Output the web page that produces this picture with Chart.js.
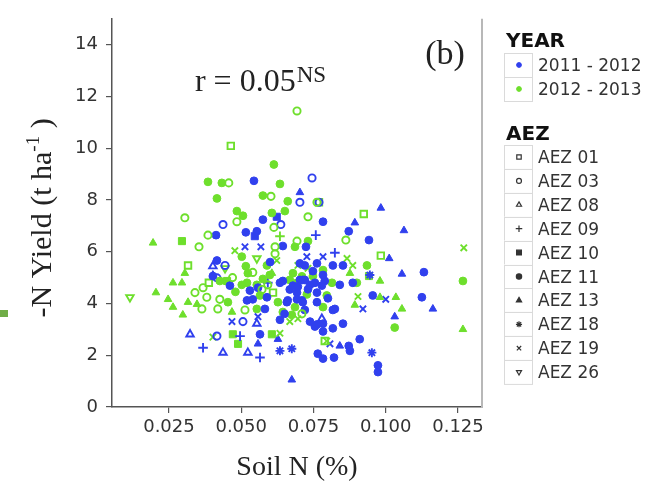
<!DOCTYPE html>
<html>
<head>
<meta charset="utf-8">
<script src="https://cdn.jsdelivr.net/npm/chart.js@4/dist/chart.umd.min.js"></script>
<style>
  body { margin: 0; background: #fff; }
  #wrap { width: 651px; height: 487px; }
</style>
</head>
<body>
<div id="wrap"><canvas id="chart" width="651" height="487"></canvas></div>
<script>
// ---- data: [soil N %, -N yield t/ha] ----
const xTicks = [0.025, 0.05, 0.075, 0.1, 0.125];
const yTicks = [0, 2, 4, 6, 8, 10, 12, 14];
const years = ["2011 - 2012", "2012 - 2013"];
const aezNames = ["AEZ 01", "AEZ 03", "AEZ 08", "AEZ 09", "AEZ 10", "AEZ 11", "AEZ 13", "AEZ 18", "AEZ 19", "AEZ 26"];

// 2011 - 2012 (blue)
const y1Aez03 = [[0.0745, 8.85], [0.0703, 7.91], [0.0769, 7.91], [0.0437, 7.05], [0.0637, 7.05], [0.0444, 5.47],
  [0.0416, 4.99], [0.0506, 3.30], [0.0416, 2.74]];
const y1Aez08 = [[0.0402, 5.44], [0.0554, 3.22], [0.0323, 2.81], [0.0437, 2.10], [0.0523, 2.10], [0.0779, 3.41]];
const y1Aez09 = [[0.0592, 4.80], [0.0496, 2.74], [0.0368, 2.29], [0.0565, 1.91], [0.0758, 6.64], [0.0824, 5.96]];
const y1Aez10 = [[0.0547, 6.60], [0.0623, 7.35]];
const y1Aez11 = [[0.0544, 8.74], [0.0413, 6.64], [0.0516, 6.75], [0.0554, 6.79], [0.0575, 7.24], [0.0644, 6.22],
  [0.0416, 5.66], [0.0703, 5.55], [0.0644, 4.87], [0.0713, 4.91], [0.0530, 4.50], [0.0668, 4.54], [0.0520, 4.12],
  [0.0540, 4.16], [0.0661, 4.12], [0.0710, 4.12], [0.0582, 3.79], [0.0565, 2.81], [0.0783, 7.16], [0.0872, 6.79],
  [0.0942, 6.45], [0.0724, 6.19], [0.0720, 5.47], [0.0762, 5.55], [0.0817, 5.47], [0.0852, 5.47], [0.1132, 5.21],
  [0.0720, 4.91], [0.0755, 4.80], [0.0789, 4.87], [0.0841, 4.72], [0.0886, 4.80], [0.0955, 4.31], [0.1125, 4.24],
  [0.0852, 3.22], [0.0824, 3.79], [0.0755, 3.11], [0.0817, 3.04], [0.0783, 2.92], [0.0872, 2.36], [0.0876, 2.17],
  [0.0910, 2.62], [0.0765, 2.06], [0.0783, 1.87], [0.0821, 1.91], [0.0973, 1.61], [0.0973, 1.35], [0.0634, 4.80],
  [0.0679, 4.69], [0.0461, 4.69], [0.0402, 5.06], [0.0658, 4.05], [0.0693, 4.16], [0.0634, 3.37], [0.0703, 4.91],
  [0.0783, 5.10], [0.0738, 4.72], [0.0779, 4.69], [0.0693, 4.42], [0.0762, 4.42], [0.0713, 4.05], [0.0762, 4.05],
  [0.0720, 3.75], [0.0817, 3.75], [0.0738, 3.30], [0.0783, 3.22], [0.0762, 3.19], [0.0558, 4.61], [0.0589, 4.24],
  [0.0696, 4.65], [0.0731, 4.55], [0.0748, 5.25], [0.0800, 4.20], [0.0650, 3.60], [0.0600, 5.60]];
const y1Aez13 = [[0.0703, 8.29], [0.0983, 7.69], [0.0893, 7.12], [0.1063, 6.82], [0.1012, 5.74], [0.1056, 5.14],
  [0.1163, 3.79], [0.1031, 3.49], [0.0841, 2.36], [0.0675, 1.05], [0.0402, 5.10], [0.0558, 2.44], [0.0627, 2.62]];
const y1Aez18 = [[0.0634, 2.17], [0.0675, 2.25], [0.0952, 2.10], [0.0945, 5.10]];
const y1Aez19 = [[0.0513, 6.19], [0.0568, 6.19], [0.0727, 5.81], [0.0468, 3.30], [0.0558, 3.49], [0.0783, 5.81],
  [0.0921, 3.79], [0.1000, 4.16], [0.0807, 2.44]];

// 2012 - 2013 (green)
const y2Aez01 = [[0.0464, 10.09], [0.0924, 7.46], [0.0769, 7.91], [0.0316, 5.47], [0.0388, 4.80], [0.0610, 4.42],
  [0.0983, 5.85], [0.0789, 2.55]];
const y2Aez03 = [[0.0693, 11.44], [0.0457, 8.66], [0.0603, 8.14], [0.0762, 7.91], [0.0305, 7.31], [0.0485, 7.16],
  [0.0613, 6.94], [0.0731, 7.35], [0.0385, 6.64], [0.0354, 6.19], [0.0617, 6.19], [0.0693, 6.41], [0.0617, 5.92],
  [0.0340, 4.42], [0.0368, 4.61], [0.0572, 4.54], [0.0381, 4.24], [0.0426, 4.16], [0.0364, 3.79], [0.0419, 3.79],
  [0.0513, 3.75], [0.0710, 3.60], [0.0862, 6.45], [0.0592, 4.72], [0.0470, 5.00], [0.0540, 5.20]];
const y2Aez09 = [[0.0634, 6.60]];
const y2Aez10 = [[0.0295, 6.41], [0.0451, 4.87], [0.0471, 2.81], [0.0606, 2.81], [0.0489, 2.44], [0.0942, 5.06]];
const y2Aez11 = [[0.0613, 9.37], [0.0385, 8.70], [0.0433, 8.66], [0.0634, 8.62], [0.0416, 8.06], [0.0575, 8.17],
  [0.0661, 7.95], [0.0485, 7.57], [0.0506, 7.39], [0.0606, 7.50], [0.0651, 7.57], [0.0686, 6.19], [0.0502, 5.81],
  [0.0516, 5.44], [0.0523, 5.17], [0.0589, 5.47], [0.0520, 4.80], [0.0554, 4.72], [0.0668, 4.91], [0.0693, 4.80],
  [0.0454, 4.05], [0.0565, 4.31], [0.0627, 4.05], [0.0554, 3.79], [0.0644, 3.67], [0.0675, 3.56], [0.0731, 6.41],
  [0.0935, 5.47], [0.0783, 5.29], [0.1267, 4.87], [0.1031, 3.07], [0.0599, 5.10], [0.0502, 4.72], [0.0748, 5.06],
  [0.0679, 5.17], [0.0814, 4.80], [0.0727, 4.35], [0.0796, 4.31], [0.0783, 3.86], [0.0686, 3.86], [0.0900, 4.80],
  [0.0426, 4.87], [0.0480, 4.45], [0.0575, 4.95], [0.0710, 5.05]];
const y2Aez13 = [[0.0195, 6.34], [0.0606, 5.17], [0.0305, 5.17], [0.0264, 4.80], [0.0295, 4.80], [0.0205, 4.42],
  [0.0247, 4.16], [0.0264, 3.86], [0.0316, 4.05], [0.0347, 3.97], [0.0298, 3.56], [0.0468, 3.67], [0.0876, 5.17],
  [0.0980, 4.87], [0.0980, 4.24], [0.1035, 4.24], [0.0893, 3.94], [0.1056, 3.79], [0.1267, 3.00]];
const y2Aez19 = [[0.0478, 6.04], [0.0623, 5.66], [0.0866, 5.74], [0.0886, 5.47], [0.1270, 6.15], [0.0904, 4.27],
  [0.0796, 2.55], [0.0402, 2.70], [0.0696, 5.47], [0.0668, 3.30], [0.0696, 3.41], [0.0731, 5.36], [0.0634, 2.85]];
const y2Aez26 = [[0.0554, 5.74], [0.0444, 5.36], [0.0115, 4.24]];

// ---- styles ----
const yearColors = ["#3040ee", "#6edf2c"];
const aezStyle = {
  "AEZ 01": { pointStyle: "rect", filled: false, radius: 4.6 },
  "AEZ 03": { pointStyle: "circle", filled: false, radius: 3.6 },
  "AEZ 08": { pointStyle: "triangle", filled: false, radius: 4.3 },
  "AEZ 09": { pointStyle: "cross", filled: false, radius: 4.8 },
  "AEZ 10": { pointStyle: "rect", filled: true, radius: 5 },
  "AEZ 11": { pointStyle: "circle", filled: true, radius: 3.9 },
  "AEZ 13": { pointStyle: "triangle", filled: true, radius: 4.4 },
  "AEZ 18": { pointStyle: "star", filled: false, radius: 4.5 },
  "AEZ 19": { pointStyle: "crossRot", filled: false, radius: 4.5 },
  "AEZ 26": { pointStyle: "triangle", filled: false, radius: 4.3, rotation: 180 }
};

const groups = [
  { year: 1, aez: "AEZ 13", pts: y2Aez13 },
  { year: 1, aez: "AEZ 03", pts: y2Aez03 },
  { year: 0, aez: "AEZ 11", pts: y1Aez11 },
  { year: 1, aez: "AEZ 11", pts: y2Aez11 },
  { year: 0, aez: "AEZ 03", pts: y1Aez03 },
  { year: 0, aez: "AEZ 08", pts: y1Aez08 },
  { year: 0, aez: "AEZ 09", pts: y1Aez09 },
  { year: 1, aez: "AEZ 01", pts: y2Aez01 },
  { year: 1, aez: "AEZ 19", pts: y2Aez19 },
  { year: 0, aez: "AEZ 19", pts: y1Aez19 },
  { year: 0, aez: "AEZ 18", pts: y1Aez18 },
  { year: 0, aez: "AEZ 13", pts: y1Aez13 },
  { year: 1, aez: "AEZ 10", pts: y2Aez10 },
  { year: 0, aez: "AEZ 10", pts: y1Aez10 },
  { year: 1, aez: "AEZ 09", pts: y2Aez09 },
  { year: 1, aez: "AEZ 26", pts: y2Aez26 }
];

const datasets = groups.map(g => {
  const st = aezStyle[g.aez];
  const col = yearColors[g.year];
  return {
    label: years[g.year] + " " + g.aez,
    data: g.pts.map(p => ({ x: p[0], y: p[1] })),
    pointStyle: st.pointStyle,
    pointRadius: st.radius,
    pointRotation: st.rotation || 0,
    pointBorderColor: col,
    pointBackgroundColor: st.filled ? col : "rgba(0,0,0,0)",
    pointBorderWidth: st.filled ? 1 : 1.9
  };
});

const serif = "'Liberation Serif', 'Times New Roman', serif";
const sans = "'DejaVu Sans', sans-serif";

function drawSym(ctx, opts, x, y) {
  if (Chart.helpers && Chart.helpers.drawPoint) {
    Chart.helpers.drawPoint(ctx, opts, x, y);
  } else {
    ctx.beginPath(); ctx.arc(x, y, opts.radius, 0, Math.PI * 2); ctx.fill(); ctx.stroke();
  }
}

// annotations, y title with superscript, the two-part legend
const decor = {
  id: "decor",
  afterDraw(chart) {
    const { ctx, chartArea: a, scales } = chart;
    ctx.save();

    // right edge of the panel
    ctx.strokeStyle = "#b8b8b8";
    ctx.lineWidth = 2;
    ctx.beginPath(); ctx.moveTo(a.right, a.top); ctx.lineTo(a.right, a.bottom + 1); ctx.stroke();

    // small green mark at the far left
    ctx.fillStyle = "#70ad47";
    ctx.fillRect(0, 310, 8, 7);

    ctx.fillStyle = "#222";
    ctx.textBaseline = "alphabetic";

    // (b)
    ctx.font = "34px " + serif;
    ctx.textAlign = "center";
    ctx.fillText("(b)", scales.x.getPixelForValue(0.1205), scales.y.getPixelForValue(13.24));

    // r = 0.05^NS
    ctx.textAlign = "left";
    const rx = scales.x.getPixelForValue(0.034), ry = scales.y.getPixelForValue(12.22);
    ctx.font = "32px " + serif;
    ctx.fillText("r = 0.05", rx, ry);
    const rw = ctx.measureText("r = 0.05").width;
    ctx.font = "23px " + serif;
    ctx.fillText("NS", rx + rw + 1, ry - 9);

    // y axis title: -N Yield (t ha^-1 )
    ctx.save();
    ctx.translate(51, (a.top + a.bottom) / 2 + 5);
    ctx.rotate(-Math.PI / 2);
    const big = "30px " + serif, small = "19px " + serif;
    const parts = [["-N Yield (t ha", big, 0], ["-1", small, -12], [" )", big, 0]];
    let total = 0;
    parts.forEach(p => { ctx.font = p[1]; total += ctx.measureText(p[0]).width; });
    let cx = -total / 2;
    parts.forEach(p => {
      ctx.font = p[1];
      ctx.fillText(p[0], cx, p[2]);
      cx += ctx.measureText(p[0]).width;
    });
    ctx.restore();

    // legend
    const lx = a.right + 22, kw = 28, kh = 24, tx = lx + 34;
    ctx.font = "bold 20px " + sans;
    ctx.fillStyle = "#111";
    ctx.fillText("YEAR", lx + 2, 47);
    ctx.font = "17px " + sans;
    years.forEach((yr, i) => {
      const top = 53 + i * kh;
      ctx.fillStyle = "#fff";
      ctx.fillRect(lx, top, kw, kh);
      ctx.strokeStyle = "#dadada"; ctx.lineWidth = 1;
      ctx.strokeRect(lx + 0.5, top + 0.5, kw, kh);
      ctx.fillStyle = yearColors[i]; ctx.strokeStyle = yearColors[i];
      drawSym(ctx, { pointStyle: "circle", radius: 2.4, rotation: 0, borderWidth: 1 }, lx + 15, top + kh / 2);
      ctx.fillStyle = "#333";
      ctx.fillText(yr, tx, top + kh / 2 + 6);
    });

    ctx.font = "bold 20px " + sans;
    ctx.fillStyle = "#111";
    ctx.fillText("AEZ", lx + 2, 140);
    ctx.font = "17px " + sans;
    aezNames.forEach((nm, i) => {
      const top = 145 + i * 23.9;
      const st = aezStyle[nm];
      ctx.fillStyle = "#fff";
      ctx.fillRect(lx, top, kw, 23.9);
      ctx.strokeStyle = "#dadada"; ctx.lineWidth = 1;
      ctx.strokeRect(lx + 0.5, Math.round(top) + 0.5, kw, 23.9);
      ctx.strokeStyle = "#333";
      ctx.fillStyle = st.filled ? "#333" : "#fff";
      ctx.lineWidth = 1.2;
      drawSym(ctx, { pointStyle: st.pointStyle, radius: st.radius * 0.68, rotation: st.rotation || 0, borderWidth: 1.2 },
        lx + 15, top + 12);
      ctx.fillStyle = "#333";
      ctx.fillText(nm, tx, top + 12 + 6);
    });

    ctx.restore();
  }
};

new Chart(document.getElementById("chart"), {
  type: "scatter",
  data: { datasets: datasets },
  options: {
    responsive: false,
    animation: false,
    layout: { padding: { left: 0, right: 169, top: 8, bottom: 0 } },
    plugins: { legend: { display: false }, tooltip: { enabled: false } },
    scales: {
      x: {
        type: "linear",
        min: 0.0053,
        max: 0.1333,
        afterFit: s => { s.height = 80; },
        afterBuildTicks: s => { s.ticks = xTicks.map(v => ({ value: v })); },
        border: { display: true, color: "#555", width: 1.5 },
        grid: { drawOnChartArea: false, drawTicks: true, tickLength: 6, color: "#555", lineWidth: 1.2 },
        ticks: {
          padding: 4,
          color: "#333",
          font: { family: sans, size: 18 },
          maxRotation: 0,
          callback: v => v.toFixed(3)
        },
        title: {
          display: true,
          text: "Soil N (%)",
          color: "#222",
          font: { family: serif, size: 28 },
          padding: { top: 0, bottom: 3 }
        }
      },
      y: {
        type: "linear",
        min: 0,
        max: 15,
        afterFit: s => { s.width = 112; },
        afterBuildTicks: s => { s.ticks = yTicks.map(v => ({ value: v })); },
        border: { display: true, color: "#555", width: 1.5 },
        grid: { drawOnChartArea: false, drawTicks: true, tickLength: 6, color: "#555", lineWidth: 1.2 },
        ticks: {
          padding: 8,
          color: "#333",
          font: { family: sans, size: 18 },
          callback: v => String(v)
        }
      }
    }
  },
  plugins: [decor]
});
</script>
</body>
</html>
